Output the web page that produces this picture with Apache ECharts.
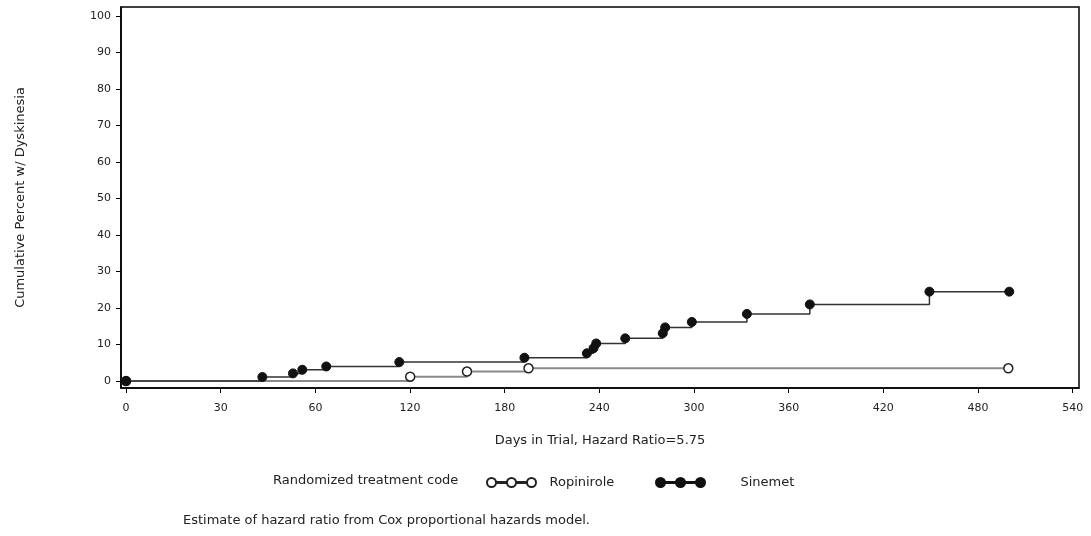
<!DOCTYPE html>
<html>
<head>
<meta charset="utf-8">
<script src="https://cdn.jsdelivr.net/npm/echarts@6/dist/echarts.min.js"></script>
<style>
  html, body { margin: 0; padding: 0; background: #fff; }
  #chart { width: 1091px; height: 536px; }
</style>
</head>
<body>
<div id="chart"></div>
<script>
// tick positions on the day axis and the labels printed under them
var xTickValues = [-60, 0, 60, 120, 180, 240, 300, 360, 420, 480, 540]
var xTickLabels = ['0', '30', '60', '120', '180', '240', '300', '360', '420', '480', '540']
var yTickValues = [0, 10, 20, 30, 40, 50, 60, 70, 80, 90, 100]

// Ropinirole (open circles)
var ropiniroleDays = [-60, 120.1, 156.1, 195.1, 499.2]
var ropinirolePct = [0, 1.2, 2.6, 3.5, 3.5]

// Sinemet (filled circles)
var sinemetDays = [-60, 26.4, 45.8, 51.7, 66.9, 113.2, 192.5, 232.1, 236.3, 238.0, 256.4, 280.2, 281.7, 298.6, 333.5, 373.4, 449.2, 499.8]
var sinemetPct = [0, 1.1, 2.1, 3.1, 4.0, 5.2, 6.4, 7.6, 9.0, 10.3, 11.7, 13.1, 14.7, 16.2, 18.4, 21.0, 24.5, 24.5]

var seriesNames = ['Ropinirole', 'Sinemet']

function pairs (xs, ys) {
  let out = []
  for (let i = 0; i < xs.length; i++) {
    out.push([xs[i], ys[i]])
  }
  return out
}

// three markers joined by a line, like the SAS legend
var legendIcon = 'path://M0.5,5a4.5,4.5 0 1,0 9,0a4.5,4.5 0 1,0 -9,0Z' +
  'M9.5,4.6h11v0.8h-11Z' +
  'M20.5,5a4.5,4.5 0 1,0 9,0a4.5,4.5 0 1,0 -9,0Z' +
  'M29.5,4.6h11v0.8h-11Z' +
  'M40.5,5a4.5,4.5 0 1,0 9,0a4.5,4.5 0 1,0 -9,0Z'

var textFont = 'DejaVu Sans'
var textColor = '#222'

let myChart = echarts.init(document.getElementById('chart'))
let option = {
  animation: false,
  backgroundColor: '#fff',
  grid: {
    left: 121,
    right: 12,
    top: 7,
    bottom: 148,
    show: true,
    borderColor: '#000',
    borderWidth: 1.5
  },
  legend: [
    {
      data: [seriesNames[0]],
      left: 486,
      top: 476,
      padding: 0,
      icon: legendIcon,
      itemWidth: 50,
      itemHeight: 9,
      textStyle: { fontFamily: textFont, fontSize: 13, color: textColor, padding: [0, 0, 0, 8] }
    },
    {
      data: [seriesNames[1]],
      left: 655,
      top: 476,
      padding: 0,
      icon: legendIcon,
      itemWidth: 50,
      itemHeight: 9,
      textStyle: { fontFamily: textFont, fontSize: 13, color: textColor, padding: [0, 0, 0, 30] }
    }
  ],
  graphic: [
    {
      type: 'text',
      left: 273,
      top: 474,
      style: { text: 'Randomized treatment code', font: '13px "DejaVu Sans"', fill: textColor }
    },
    {
      type: 'text',
      left: 183,
      top: 514,
      style: { text: 'Estimate of hazard ratio from Cox proportional hazards model.', font: '13px "DejaVu Sans"', fill: textColor }
    }
  ],
  xAxis: {
    type: 'value',
    min: -63.2,
    max: 544,
    name: 'Days in Trial, Hazard Ratio=5.75',
    nameLocation: 'middle',
    nameGap: 46,
    nameTextStyle: { fontFamily: textFont, fontSize: 13, color: textColor },
    axisLine: { show: true, onZero: false, lineStyle: { color: '#000', width: 1.5 } },
    axisTick: { show: true, customValues: xTickValues, length: 5, lineStyle: { color: '#000' } },
    axisLabel: {
      customValues: xTickValues,
      margin: 15,
      fontFamily: textFont,
      fontSize: 11,
      color: textColor,
      formatter: function (v) {
        return xTickLabels[xTickValues.indexOf(v)]
      }
    },
    splitLine: { show: false }
  },
  yAxis: {
    type: 'value',
    min: -1.9,
    max: 102.5,
    name: 'Cumulative Percent w/ Dyskinesia',
    nameLocation: 'middle',
    nameRotate: 90,
    nameGap: 94,
    nameTextStyle: { fontFamily: textFont, fontSize: 13, color: textColor },
    axisLine: { show: true, onZero: false, lineStyle: { color: '#000', width: 1.5 } },
    axisTick: { show: true, customValues: yTickValues, length: 5, lineStyle: { color: '#000' } },
    axisLabel: {
      customValues: yTickValues,
      margin: 10,
      fontFamily: textFont,
      fontSize: 11,
      color: textColor
    },
    splitLine: { show: false }
  },
  series: [
    {
      name: seriesNames[0],
      type: 'line',
      step: 'end',
      data: pairs(ropiniroleDays, ropinirolePct),
      symbol: 'circle',
      symbolSize: 9,
      lineStyle: { color: '#8a8a8a', width: 2 },
      itemStyle: { color: '#fff', borderColor: '#222', borderWidth: 1.5 }
    },
    {
      name: seriesNames[1],
      type: 'line',
      step: 'end',
      data: pairs(sinemetDays, sinemetPct),
      symbol: 'circle',
      symbolSize: 9,
      lineStyle: { color: '#333', width: 1.5 },
      itemStyle: { color: '#111', borderColor: '#111', borderWidth: 1 }
    }
  ]
}
myChart.setOption(option)
</script>
</body>
</html>
